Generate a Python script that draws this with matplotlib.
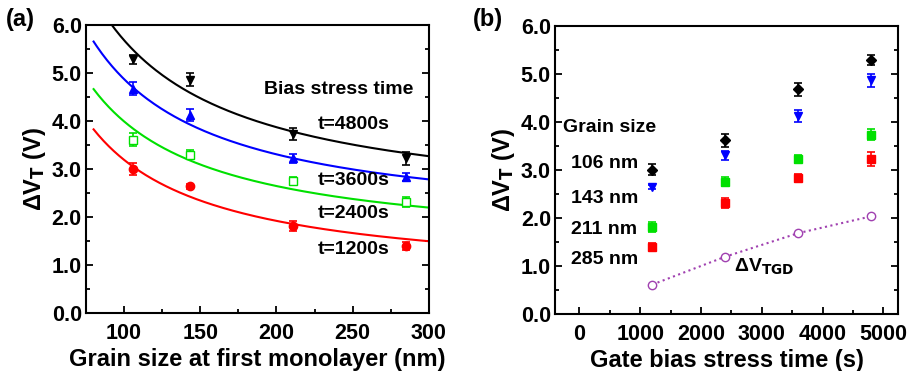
import matplotlib
matplotlib.use("Agg")
import matplotlib.pyplot as plt
import numpy as np
from matplotlib.ticker import MultipleLocator, FormatStrFormatter

plt.rcParams["font.family"] = ["Liberation Sans", "DejaVu Sans"]
plt.rcParams["font.weight"] = "bold"
plt.rcParams["mathtext.default"] = "regular"

# grain sizes (nm) and stress times (s)
grain = [106, 143, 211, 285]
times = [1200, 2400, 3600, 4800]

# delta V_T per stress time, indexed by grain size
dvt_1200 = [3.00, 2.64, 1.81, 1.40]
dvt_2400 = [3.61, 3.30, 2.75, 2.31]
dvt_3600 = [4.67, 4.12, 3.22, 2.83]
dvt_4800 = [5.28, 4.86, 3.73, 3.22]

err_1200 = [0.12, 0.05, 0.10, 0.08]
err_2400 = [0.14, 0.09, 0.09, 0.10]
err_3600 = [0.14, 0.12, 0.09, 0.08]
err_4800 = [0.10, 0.13, 0.12, 0.14]

# fitted curves dV = a + b / d
fit_a = [0.65, 1.30, 1.74, 2.06]
fit_b = [254, 269, 313, 362]

tgd = [0.61, 1.19, 1.68, 2.03]

series_a = [
    ("t=1200s", dvt_1200, err_1200, "red", "o", True),
    ("t=2400s", dvt_2400, err_2400, "#00e000", "s", False),
    ("t=3600s", dvt_3600, err_3600, "blue", "^", True),
    ("t=4800s", dvt_4800, err_4800, "black", "v", True),
]

TICK_FS = 15.5
LABEL_FS = 17
NOTE_FS = 14

fig = plt.figure(figsize=(9.07, 3.71), dpi=100)
ax1 = fig.add_axes([0.0948, 0.156, 0.378, 0.777])
ax2 = fig.add_axes([0.612, 0.154, 0.378, 0.777])


def style(ax):
    for s in ax.spines.values():
        s.set_linewidth(1.5)
    ax.tick_params(which="both", direction="in", left=True, right=True,
                   top=False, bottom=True, width=1.3, labelsize=TICK_FS)
    ax.tick_params(which="major", length=5)
    ax.tick_params(which="minor", length=3)
    ax.tick_params(axis="x", pad=7)
    ax.tick_params(axis="y", pad=3)
    ax.yaxis.set_major_locator(MultipleLocator(1.0))
    ax.yaxis.set_minor_locator(MultipleLocator(0.5))
    ax.yaxis.set_major_formatter(FormatStrFormatter("%.1f"))
    ax.set_ylim(0, 6)
    ax.set_ylabel(r"$\Delta$V$_\mathbf{T}$ (V)", fontsize=LABEL_FS, fontweight="bold", labelpad=3)


# panel (a)
xs = np.linspace(80, 300, 200)
for (lab, y, e, c, m, filled), a, b in zip(series_a, fit_a, fit_b):
    ax1.plot(xs, a + b / xs, color=c, lw=1.5)
    ax1.errorbar(grain, y, yerr=e, fmt=m, color=c, ms=6, capsize=3,
                 elinewidth=1.2, capthick=1.2,
                 mfc=c if filled else "white", mec=c)
style(ax1)
ax1.set_xlim(75, 300)
ax1.xaxis.set_major_locator(MultipleLocator(50))
ax1.xaxis.set_minor_locator(MultipleLocator(25))
ax1.set_xlabel("Grain size at first monolayer (nm)", fontsize=LABEL_FS, fontweight="bold", labelpad=3)
ax1.text(192, 4.65, "Bias stress time", fontsize=NOTE_FS, fontweight="bold", va="center")
for lab, ty in zip(["t=4800s", "t=3600s", "t=2400s", "t=1200s"], [3.92, 2.77, 2.08, 1.33]):
    ax1.text(227, ty, lab, fontsize=NOTE_FS, fontweight="bold", va="center")
fig.text(0.007, 0.948, "(a)", fontsize=LABEL_FS, fontweight="bold", va="center")

# panel (b)
cols = [dvt_1200, dvt_2400, dvt_3600, dvt_4800]
ecols = [err_1200, err_2400, err_3600, err_4800]
styles_b = [("black", "D"), ("blue", "v"), ("#00e000", "s"), ("red", "s")]
for i, (c, m) in enumerate(styles_b):
    yv = [col[i] for col in cols]
    ev = [col[i] for col in ecols]
    ax2.errorbar(times, yv, yerr=ev, fmt=m, color=c, ms=5 if m == "D" else 6,
                 capsize=3, elinewidth=1.2, capthick=1.2)
ax2.plot(times, tgd, ls=":", lw=1.5, color="#a040b0", marker="o", ms=6,
         mfc="white", mec="#a040b0", mew=1)
style(ax2)
ax2.set_xlim(-400, 5240)
ax2.xaxis.set_major_locator(MultipleLocator(1000))
ax2.xaxis.set_minor_locator(MultipleLocator(500))
ax2.set_xlabel("Gate bias stress time (s)", fontsize=LABEL_FS, fontweight="bold", labelpad=3)
ax2.text(-270, 3.87, "Grain size", fontsize=NOTE_FS, fontweight="bold", va="center")
for lab, ty in zip(["106 nm", "143 nm", "211 nm", "285 nm"], [3.14, 2.4, 1.75, 1.13]):
    ax2.text(-130, ty, lab, fontsize=NOTE_FS, fontweight="bold", va="center")
ax2.text(2550, 1.0, r"$\Delta$V$_\mathbf{TGD}$", fontsize=NOTE_FS, fontweight="bold", va="center")
fig.text(0.521, 0.948, "(b)", fontsize=LABEL_FS, fontweight="bold", va="center")

fig.savefig("out.png", dpi=100)
